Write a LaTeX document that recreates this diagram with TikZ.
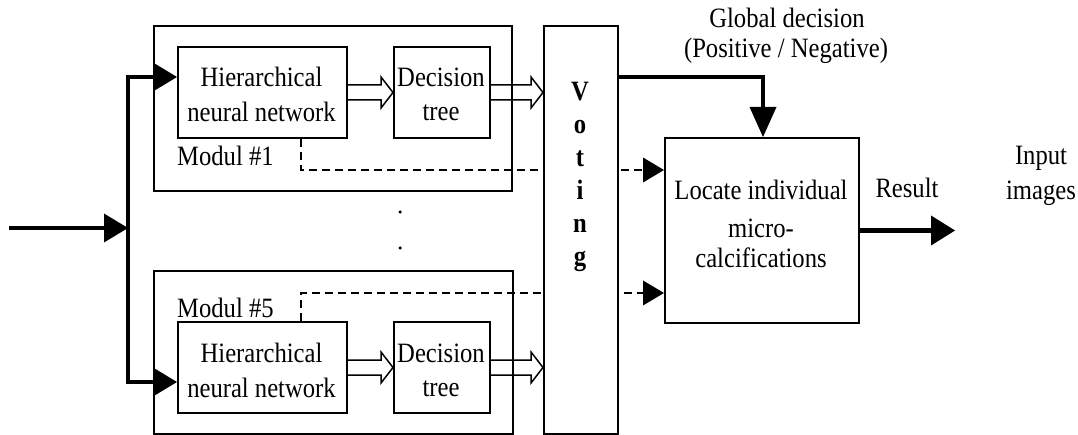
\documentclass[tikz,border=0pt]{standalone}
\usepackage{fontspec}
\newfontfamily\tnr[FakeStretch=0.88]{Liberation Serif}
\usetikzlibrary{arrows.meta,calc}

% hollow block arrow from a box side to a target point
\newcommand\hollowarrow[2]{%
  \draw[hollow] ($(#1)+(0,-7.5)$) -- ($(#2)+(-12,-7.5)$) -- ($(#2)+(-12,-15.5)$)
    -- (#2) -- ($(#2)+(-12,15.5)$) -- ($(#2)+(-12,7.5)$) -- ($(#1)+(0,7.5)$);}

\begin{document}
\begin{tikzpicture}[x=1pt,y=-1pt,
  box/.style={draw, line width=2pt, inner sep=0pt, anchor=north west},
  txt/.style={font=\tnr\fontsize{28}{34}\selectfont, inner sep=0pt, anchor=base},
  power/.style={line width=4.5pt, line join=miter},
  hollow/.style={draw, line width=1.5pt, line join=miter},
  dashline/.style={line width=2pt, dash pattern=on 8pt off 5pt},
  dot/.style={circle, fill, inner sep=0pt, minimum size=3.5pt},
  bigtip/.tip={Triangle[length=24pt,width=29pt,line width=0pt]},
  smalltip/.tip={Triangle[length=21pt,width=25pt,line width=0pt]}]

\useasboundingbox (0,0) rectangle (1078,435);

% module boxes
\node[box, minimum width=358pt, minimum height=165pt] (mod1) at (153,25) {};
\node[box, minimum width=359pt, minimum height=163pt] (mod5) at (153,270) {};

% inner blocks
\node[box, minimum width=169pt, minimum height=91pt] (hnn1) at (177,46) {};
\node[box, minimum width=96pt, minimum height=91pt] (dt1) at (393,46) {};
\node[box, minimum width=169pt, minimum height=91pt] (hnn5) at (177,321) {};
\node[box, minimum width=96pt, minimum height=91pt] (dt5) at (393,321) {};

\node[txt] (hnn1a) at (261.5,87) {Hierarchical};
\node[txt] (hnn1b) at (261.5,122) {neural network};
\node[txt] (dt1a) at (441,87) {Decision};
\node[txt] (dt1b) at (441,121) {tree};
\node[txt] (hnn5a) at (261.5,362) {Hierarchical};
\node[txt] (hnn5b) at (261.5,397) {neural network};
\node[txt] (dt5a) at (441,362) {Decision};
\node[txt] (dt5b) at (441,396) {tree};

\node[txt, anchor=base west] (m1) at (177,166) {Modul \#1};
\node[txt, anchor=base west] (m5) at (177,318) {Modul \#5};

% ellipsis between the modules
\node[dot] (dot1) at (400,212) {};
\node[dot] (dot2) at (400,248) {};

% locate box
\node[box, fill=white, minimum width=194pt, minimum height=185pt] (locate) at (664,137) {};
\node[txt] (loc1) at (761,200) {Locate individual};
\node[txt] (loc2) at (761,238) {micro-};
\node[txt] (loc3) at (761,268) {calcifications};

% reference points for the routing
\coordinate (inp) at (9,228);
\coordinate (bus) at (128,228);
\coordinate (h1in) at ($(hnn1.north west)+(0,31)$);
\coordinate (h5in) at ($(hnn5.north west)+(0,61)$);
\coordinate (dx1) at (301,170);
\coordinate (dx5) at (301,293);
\coordinate (gturn) at (763,77);
\coordinate (res) at (955,230);

% dashed position links (hidden behind the voting box)
\draw[dashline,-smalltip] (hnn1.south -| dx1) -- (dx1) -- (dx1 -| locate.west);
\draw[dashline,-smalltip] (hnn5.north -| dx5) -- (dx5) -- (dx5 -| locate.west);

% voting box
\node[box, fill=white, minimum width=74pt, minimum height=408pt] (vote) at (543,25) {};
\node[font=\tnr\bfseries\fontsize{28}{33}\selectfont, align=center, inner sep=0pt,
      anchor=north] (vtxt) at (580,81.5) {V\\o\\t\\i\\n\\g};

% input bus
\draw[power,-bigtip] (inp) -- (bus);
\draw[power,bigtip-bigtip] (h1in) -- (h1in -| bus) -- (h5in -| bus) -- (h5in);

% block arrows
\coordinate (v1) at (dt1.east -| vote.west);
\coordinate (v5) at (dt5.east -| vote.west);
\hollowarrow{hnn1.east}{dt1.west}
\hollowarrow{dt1.east}{v1}
\hollowarrow{hnn5.east}{dt5.west}
\hollowarrow{dt5.east}{v5}

% global decision and result
\draw[power,-{Triangle[length=30pt,width=27pt,line width=0pt]}]
  (gturn -| vote.east) -- (gturn) -- (gturn |- locate.north);
\draw[power,-{Triangle[length=24pt,width=30pt,line width=0pt]}]
  (locate.east) -- (locate.east -| res);

\node[txt] (gd1) at (787,28) {Global decision};
\node[txt] (gd2) at (786,58) {(Positive / Negative)};
\node[txt] (resl) at (907,198) {Result};
\node[txt] (in1) at (1041,165) {Input};
\node[txt] (in2) at (1041,200) {images};
\end{tikzpicture}
\end{document}
